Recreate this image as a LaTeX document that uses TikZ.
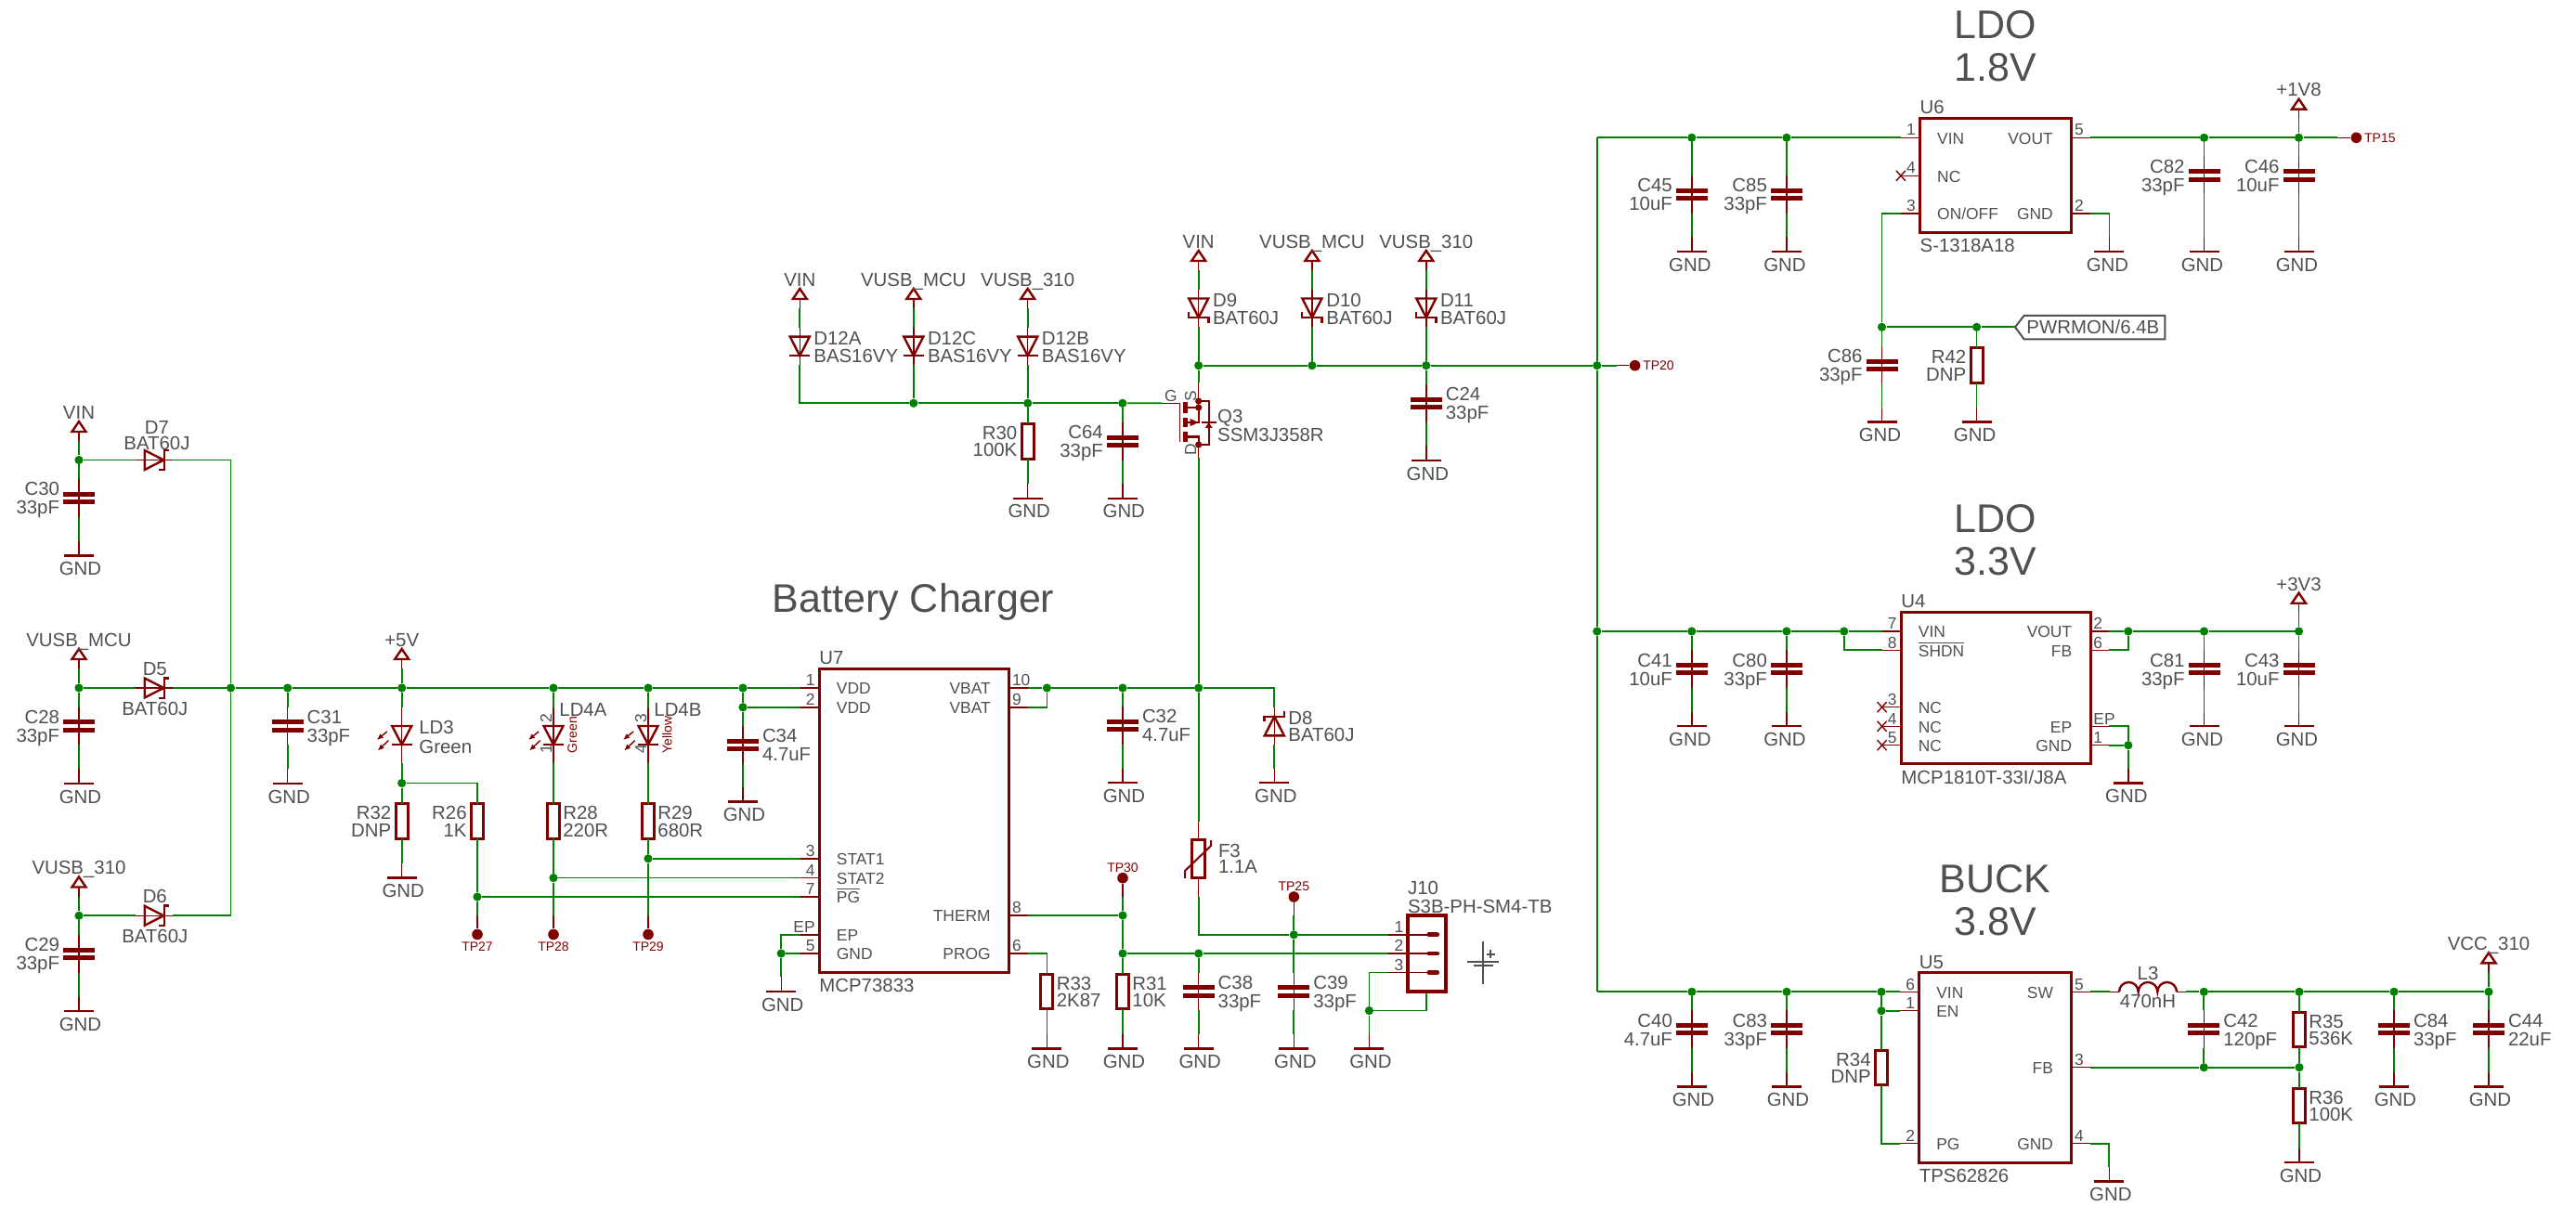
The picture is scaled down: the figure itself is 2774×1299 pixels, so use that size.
\documentclass[tikz,border=0pt]{standalone}
\usepackage{fontspec}
\setmainfont{Liberation Sans}
\usepackage{xcolor}
\usetikzlibrary{arrows.meta}
\definecolor{wiregreen}{HTML}{008000}
\definecolor{symred}{HTML}{800000}
\definecolor{txtgray}{HTML}{505050}
\newcommand{\ovl}[1]{$\overline{\mbox{#1}}$}
\tikzset{
	wire/.style={draw=wiregreen, line width=.85pt},
	pinline/.style={draw=symred, line width=.7pt},
	symline/.style={draw=symred, line width=1.2pt},
	jn/.style={circle, fill=wiregreen, inner sep=0pt, minimum size=4.6pt},
	tdot/.style={circle, fill=symred, inner sep=0pt, minimum size=5.8pt},
	chip/.style={draw=symred, line width=1.5pt, inner sep=0pt},
	lbl/.style={inner sep=0pt, text=txtgray, font=\fontsize{10.2}{10.2}\selectfont, text height=7.3pt, text depth=0pt},
	chiptxt/.style={inner sep=0pt, text=txtgray, font=\fontsize{8.7}{8.7}\selectfont, text height=6.3pt, text depth=0pt},
	tplbl/.style={inner sep=0pt, text=symred, font=\fontsize{7}{7}\selectfont, text height=5pt, text depth=0pt},
	titlelbl/.style={inner sep=0pt, text=txtgray, font=\fontsize{21.5}{21.5}\selectfont, text height=15.5pt, text depth=0pt},
	pics/capl/.style 2 args={code={
		\draw[pinline] (0,-20.4) -- (0,20.4);
		\fill[symred] (-17,-6.7) rectangle (17,-1.7);
		\fill[symred] (-17,1.7) rectangle (17,6.7);
		\coordinate (-t) at (0,-20.4);
		\coordinate (-b) at (0,20.4);
		\node (-ref) [lbl, anchor=east] at (-20.6,-10) {#1};
		\node (-val) [lbl, anchor=east] at (-20.6,10) {#2};
	}},
	pics/capr/.style 2 args={code={
		\draw[pinline] (0,-20.4) -- (0,20.4);
		\fill[symred] (-17,-6.7) rectangle (17,-1.7);
		\fill[symred] (-17,1.7) rectangle (17,6.7);
		\coordinate (-t) at (0,-20.4);
		\coordinate (-b) at (0,20.4);
		\node (-ref) [lbl, anchor=west] at (20.6,-10) {#1};
		\node (-val) [lbl, anchor=west] at (20.6,10) {#2};
	}},
	pics/resl/.style 2 args={code={
		\draw[symline, line width=1.5pt] (-6.5,-18.8) rectangle (6.5,18.8);
		\coordinate (-t) at (0,-18.8);
		\coordinate (-b) at (0,18.8);
		\node (-ref) [lbl, anchor=east] at (-11,-9.3) {#1};
		\node (-val) [lbl, anchor=east] at (-11,9.3) {#2};
	}},
	pics/resr/.style 2 args={code={
		\draw[symline, line width=1.5pt] (-6.5,-18.8) rectangle (6.5,18.8);
		\coordinate (-t) at (0,-18.8);
		\coordinate (-b) at (0,18.8);
		\node (-ref) [lbl, anchor=west] at (10,-9.3) {#1};
		\node (-val) [lbl, anchor=west] at (10,9.3) {#2};
	}},
	pics/gnd/.style={code={
		\draw[pinline] (0,-15.5) -- (0,0);
		\draw[symline] (-16,0) -- (16,0);
		\coordinate (-t) at (0,-15.5);
		\node (-txt) [lbl] at (#1,14) {GND};
	}},
	pics/gnd/.default=1.5,
	pics/supply/.style={code={
		\draw[pinline] (0,-10) -- (0,0);
		\draw[symline] (0,-21) -- (-7.5,-10) -- (7.5,-10) -- cycle;
		\coordinate (-b) at (0,0);
		\node (-txt) [lbl] at (0,-31) {#1};
	}},
	pics/diodev/.style={code={
		\draw[pinline] (0,-20) -- (0,20);
		\draw[symline] (-10.5,-10.3) -- (10.5,-10.3) -- (0,10.3) -- cycle;
		\draw[symline] (-11,10.3) -- (11,10.3);
		\coordinate (-t) at (0,-20);
		\coordinate (-b) at (0,20);
	}},
	pics/schv/.style={code={
		\draw[pinline] (0,-20) -- (0,20);
		\draw[symline] (-10.5,-10.3) -- (10.5,-10.3) -- (0,10.3) -- cycle;
		\draw[symline] (-10.7,4.7) -- (-10.7,10.3) -- (10.7,10.3) -- (10.7,15.9);
		\coordinate (-t) at (0,-20);
		\coordinate (-b) at (0,20);
	}},
	pics/schu/.style={code={
		\draw[pinline] (0,-20) -- (0,20);
		\draw[symline] (-10.5,10.3) -- (10.5,10.3) -- (0,-10.3) -- cycle;
		\draw[symline] (-10.7,-4.7) -- (-10.7,-10.3) -- (10.7,-10.3) -- (10.7,-15.9);
		\coordinate (-t) at (0,-20);
		\coordinate (-b) at (0,20);
	}},
	pics/schh/.style={code={
		\draw[pinline] (-20,0) -- (20,0);
		\draw[symline] (-10.3,-10.5) -- (-10.3,10.5) -- (10.3,0) -- cycle;
		\draw[symline] (5.2,10.7) -- (10.8,10.7) -- (10.8,-10.7) -- (16.4,-10.7);
		\coordinate (-l) at (-20,0);
		\coordinate (-r) at (20,0);
	}},
	pics/ledv/.style={code={
		\draw[pinline] (0,-30) -- (0,30);
		\draw[symline] (-10.5,-10) -- (10.5,-10) -- (0,10) -- cycle;
		\draw[symline] (-11,10) -- (11,10);
		\draw[pinline, -{Latex[length=3.5pt,width=3pt]}] (-15.9,-4) -- (-27,5);
		\draw[pinline, -{Latex[length=3.5pt,width=3pt]}] (-14.3,5.6) -- (-26,16.6);
		\coordinate (-t) at (0,-30);
		\coordinate (-b) at (0,30);
	}},
	pics/pinl/.style 2 args={code={
		\draw[pinline] (-20.4,0) -- (0,0);
		\coordinate (-e) at (-20.4,0);
		\node (-num) [chiptxt, anchor=east] at (-4,-8.6) {#1};
		\node (-name) [chiptxt, anchor=west] at (18.5,.5) {#2};
	}},
	pics/pinr/.style 2 args={code={
		\draw[pinline] (20.4,0) -- (0,0);
		\coordinate (-e) at (20.4,0);
		\node (-num) [chiptxt, anchor=west] at (3,-8.6) {#1};
		\node (-name) [chiptxt, anchor=east] at (-19.5,.5) {#2};
	}},
	pics/jpin/.style={code={
		\draw[pinline] (-20.4,0) -- (22,0);
		\draw[draw=symred, line width=2.4pt, line cap=round] (23,0) -- (32,0);
		\coordinate (-e) at (-20.4,0);
		\node (-num) [chiptxt, anchor=east] at (-4,-8.8) {#1};
	}},
	pics/xmark/.style={code={
		\draw[pinline] (-5,-5.5) -- (5,5.5);
		\draw[pinline] (-5,5.5) -- (5,-5.5);
	}},
	pics/tpd/.style={code={
		\node (-dot) [tdot] at (0,0) {};
		\draw[pinline] (0,-21) -- (-dot);
		\coordinate (-p) at (0,-21);
		\node (-txt) [tplbl] at (0,12.5) {#1};
	}},
	pics/tpa/.style={code={
		\node (-dot) [tdot] at (0,0) {};
		\draw[pinline] (0,20.4) -- (-dot);
		\coordinate (-p) at (0,20.4);
		\node (-txt) [tplbl] at (0,-11.5) {#1};
	}},
	pics/tpr/.style={code={
		\node (-dot) [tdot] at (0,0) {};
		\draw[pinline] (-20,0) -- (-dot);
		\coordinate (-p) at (-20,0);
		\node (-txt) [tplbl, anchor=west] at (8.3,0) {#1};
	}},
	pics/pmos/.style={code={
		\draw[pinline] (0,-43.3) -- (0,-16);
		\draw[pinline] (0,24) -- (0,38.3);
		\draw[pinline] (-39.7,-20.7) -- (-20,-20.7) -- (-20,21);
		\draw[draw=symred, line width=2.6pt] (-14.4,-21.7) -- (-14.4,-10);
		\draw[draw=symred, line width=2.6pt] (-14.4,-5) -- (-14.4,5);
		\draw[draw=symred, line width=2.6pt] (-14.4,10) -- (-14.4,21);
		\draw[symline] (-14.4,-16) -- (0,-16) -- (0,0) -- (-14.4,0);
		\fill[symred] (0,0) -- (-9,-4) -- (-9,4) -- cycle;
		\draw[symline] (-14.4,15.7) -- (0,15.7) -- (0,24);
		\draw[pinline, line width=1pt] (0,-23) -- (11,-23) -- (11,24) -- (0,24);
		\fill[symred] (11,0) -- (7,6) -- (15,6) -- cycle;
		\draw[symline] (3,0) -- (19,0);
		\fill[symred] (0,-23) circle (3.6);
		\fill[symred] (0,-16) circle (3.6);
		\fill[symred] (0,24) circle (3.6);
		\coordinate (-s) at (0,-43.3);
		\coordinate (-g) at (-39.7,-20.7);
		\coordinate (-d) at (0,38.3);
	}},
	pics/fuse/.style={code={
		\draw[pinline] (0,-40.4) -- (0,-20.7);
		\draw[pinline] (0,20.7) -- (0,41);
		\draw[symline, line width=1.5pt] (-7.2,-20.7) rectangle (7.2,20.7);
		\draw[pinline, line width=1pt] (-14.7,21) -- (-14.7,13) -- (13.3,-14) -- (13.3,-20);
		\coordinate (-t) at (0,-40.4);
		\coordinate (-b) at (0,41);
	}},
	pics/coil/.style={code={
		\draw[pinline] (-41,0) -- (-31,0);
		\draw[pinline] (31,0) -- (41,0);
		\draw[symline] (-31,0) arc[start angle=180, end angle=360, radius=10.33] arc[start angle=180, end angle=360, radius=10.33] arc[start angle=180, end angle=360, radius=10.33];
		\coordinate (-l) at (-41,0);
		\coordinate (-r) at (41,0);
	}}
}

\begin{document}
\begin{tikzpicture}[x=.5pt, y=-.5pt]
	\useasboundingbox (0,0) rectangle (2774,1299);

	\node (jvin) [jn] at (85,495.5) {};
	\pic (svin) at (85,475) {supply=VIN};
	\pic (d7) at (166,495.5) {schh};
	\node (d7ref) [lbl] at (169,460.6) {D7};
	\node (d7val) [lbl] at (169,477.6) {BAT60J};
	\pic (c30) at (85,536.6) {capl={C30}{33pF}};
	\pic (g30) at (85,598.3) {gnd};
	\draw[wire] (svin-b) -- (jvin);
	\draw[wire] (jvin) -- (c30-t);
	\draw[wire] (c30-b) -- (g30-t);
	\draw[wire] (jvin) -- (d7-l);

	\node (jmcu) [jn] at (85,741) {};
	\pic (smcu) at (85,720) {supply={VUSB\_MCU}};
	\pic (d5) at (166,741) {schh};
	\node (d5ref) [lbl] at (166.8,720.5) {D5};
	\node (d5val) [lbl] at (166.8,763.6) {BAT60J};
	\pic (c28) at (85,782) {capl={C28}{33pF}};
	\pic (g28) at (85,843.7) {gnd};
	\draw[wire] (smcu-b) -- (jmcu);
	\draw[wire] (jmcu) -- (c28-t);
	\draw[wire] (c28-b) -- (g28-t);
	\draw[wire] (jmcu) -- (d5-l);

	\node (jusb) [jn] at (85,986.3) {};
	\pic (susb) at (85,965.5) {supply={VUSB\_310}};
	\pic (d6) at (166,986.3) {schh};
	\node (d6ref) [lbl] at (166.8,965.6) {D6};
	\node (d6val) [lbl] at (166.8,1008.4) {BAT60J};
	\pic (c29) at (85,1027.4) {capl={C29}{33pF}};
	\pic (g29) at (85,1089) {gnd};
	\draw[wire] (susb-b) -- (jusb);
	\draw[wire] (jusb) -- (c29-t);
	\draw[wire] (c29-b) -- (g29-t);
	\draw[wire] (jusb) -- (d6-l);

	\node (jsum) [jn] at (248.5,741) {};
	\node (j31) [jn] at (309.7,741) {};
	\node (j5v) [jn] at (432.7,741) {};
	\node (jl4a) [jn] at (596,741) {};
	\node (jl4b) [jn] at (698,741) {};
	\node (jc34) [jn] at (800,741) {};
	\node (jc34b) [jn] at (800,761.8) {};
	\draw[wire] (d7-r) -| (jsum);
	\draw[wire] (d6-r) -| (jsum);
	\draw[wire] (d5-r) -- (jsum);
	\draw[wire] (jsum) -- (j31);
	\draw[wire] (j31) -- (j5v);
	\draw[wire] (j5v) -- (jl4a);
	\draw[wire] (jl4a) -- (jl4b);
	\draw[wire] (jl4b) -- (jc34);

	\pic (c31) at (309.7,782) {capr={C31}{33pF}};
	\pic (g31) at (309.7,843.7) {gnd};
	\draw[wire] (j31) -- (c31-t);
	\draw[wire] (c31-b) -- (g31-t);

	\pic (s5v) at (432.7,720) {supply=+5V};
	\pic (ld3) at (432.7,792) {ledv};
	\node (ld3ref) [lbl, anchor=west] at (451,783.4) {LD3};
	\node (ld3val) [lbl, anchor=west] at (451,804.5) {Green};
	\node (jld3) [jn] at (432.7,843.5) {};
	\pic (r32) at (432.7,884.4) {resl={R32}{DNP}};
	\pic (g32) at (432.7,945.5) {gnd};
	\pic (r26) at (514,884.4) {resl={R26}{1K}};
	\node (jpg) [jn] at (514,966) {};
	\pic (tp27) at (514,1006.5) {tpd=TP27};
	\draw[wire] (s5v-b) -- (j5v);
	\draw[wire] (j5v) -- (ld3-t);
	\draw[wire] (ld3-b) -- (jld3);
	\draw[wire] (jld3) -- (r32-t);
	\draw[wire] (r32-b) -- (g32-t);
	\draw[wire] (jld3) -| (r26-t);
	\draw[wire] (r26-b) -- (jpg);
	\draw[wire] (jpg) -- (tp27-p);

	\pic (ld4a) at (596,792) {ledv};
	\node (ld4a2) [chiptxt, rotate=90] at (587.8,774) {2};
	\node (ld4a1) [chiptxt, rotate=90] at (587.8,806.3) {1};
	\node (ld4aref) [lbl, anchor=west] at (602,764) {LD4A};
	\node (ld4aval) [tplbl, rotate=90] at (616,791.6) {Green};
	\pic (r28) at (596,884.4) {resr={R28}{220R}};
	\node (jst2) [jn] at (596,945.6) {};
	\pic (tp28) at (596,1006.5) {tpd=TP28};
	\draw[wire] (jl4a) -- (ld4a-t);
	\draw[wire] (ld4a-b) -- (r28-t);
	\draw[wire] (r28-b) -- (jst2);
	\draw[wire] (jst2) -- (tp28-p);

	\pic (ld4b) at (698,792) {ledv};
	\node (ld4b3) [chiptxt, rotate=90] at (689.8,774) {3};
	\node (ld4b4) [chiptxt, rotate=90] at (689.8,806.3) {4};
	\node (ld4bref) [lbl, anchor=west] at (704,764) {LD4B};
	\node (ld4bval) [tplbl, rotate=90] at (718.4,791.6) {Yellow};
	\pic (r29) at (698,884.4) {resr={R29}{680R}};
	\node (jst1) [jn] at (698,924.8) {};
	\pic (tp29) at (698,1006.5) {tpd=TP29};
	\draw[wire] (jl4b) -- (ld4b-t);
	\draw[wire] (ld4b-b) -- (r29-t);
	\draw[wire] (r29-b) -- (jst1);
	\draw[wire] (jst1) -- (tp29-p);

	\pic (c34) at (800,802.5) {capr={C34}{4.7uF}};
	\pic (g34) at (800,863.6) {gnd};
	\draw[wire] (jc34) -- (jc34b);
	\draw[wire] (jc34b) -- (c34-t);
	\draw[wire] (c34-b) -- (g34-t);

	\node (chgtitle) [titlelbl] at (983.6,644) {Battery Charger};
	\node (u7) [chip, minimum width=102.3pt, minimum height=163.55pt] at (984.3,884) {};
	\node (u7ref) [lbl, anchor=west] at (882,708) {U7};
	\node (u7val) [lbl, anchor=west] at (882,1061.4) {MCP73833};
	\pic (u7p1) at (882,741) {pinl={1}{VDD}};
	\pic (u7p2) at (882,761.8) {pinl={2}{VDD}};
	\pic (u7p3) at (882,924.8) {pinl={3}{STAT1}};
	\pic (u7p4) at (882,945.6) {pinl={4}{STAT2}};
	\pic (u7p7) at (882,966) {pinl={7}{\ovl{PG}}};
	\pic (u7pep) at (882,1006.8) {pinl={EP}{EP}};
	\pic (u7p5) at (882,1027) {pinl={5}{GND}};
	\pic (u7p10) at (1086.6,741) {pinr={10}{VBAT}};
	\pic (u7p9) at (1086.6,761.8) {pinr={9}{VBAT}};
	\pic (u7p8) at (1086.6,986) {pinr={8}{THERM}};
	\pic (u7p6) at (1086.6,1027) {pinr={6}{PROG}};
	\node (jgu7) [jn] at (841.2,1027) {};
	\pic (gu7) at (841.2,1067.9) {gnd};
	\draw[wire] (jc34) -- (u7p1-e);
	\draw[wire] (jc34b) -- (u7p2-e);
	\draw[wire] (jst1) -- (u7p3-e);
	\draw[wire] (jst2) -- (u7p4-e);
	\draw[wire] (jpg) -- (u7p7-e);
	\draw[wire] (u7pep-e) -| (jgu7);
	\draw[wire] (u7p5-e) -- (jgu7);
	\draw[wire] (jgu7) -- (gu7-t);

	\node (jbat) [jn] at (1127.4,741) {};
	\node (jc32) [jn] at (1209,741) {};
	\node (jq) [jn] at (1290.7,741) {};
	\pic (c32) at (1209,781.6) {capr={C32}{4.7uF}};
	\pic (g32b) at (1209,843.2) {gnd};
	\pic (d8) at (1372.3,782) {schu};
	\node (d8ref) [lbl, anchor=west] at (1387,773.2) {D8};
	\node (d8val) [lbl, anchor=west] at (1387,791.4) {BAT60J};
	\pic (g8) at (1372.3,843.2) {gnd};
	\draw[wire] (u7p10-e) -- (jbat);
	\draw[wire] (u7p9-e) -| (jbat);
	\draw[wire] (jbat) -- (jc32);
	\draw[wire] (jc32) -- (jq);
	\draw[wire] (jq) -| (d8-t);
	\draw[wire] (d8-b) -- (g8-t);
	\draw[wire] (jc32) -- (c32-t);
	\draw[wire] (c32-b) -- (g32b-t);

	\pic (f3) at (1290.7,925) {fuse};
	\node (f3ref) [lbl, anchor=west] at (1311.6,916.4) {F3};
	\node (f3val) [lbl, anchor=west] at (1311.6,933.6) {1.1A};
	\node (jp1) [jn] at (1393.3,1006.8) {};
	\pic (tp25) at (1393.3,966) {tpa=TP25};
	\pic (tp30) at (1209,945.7) {tpa=TP30};
	\node (jtherm) [jn] at (1209,986) {};
	\node (jr31) [jn] at (1209,1027) {};
	\node (jc38) [jn] at (1290.7,1027) {};
	\pic (r33) at (1127.4,1068) {resr={R33}{2K87}};
	\pic (g33) at (1127.4,1129.3) {gnd};
	\pic (r31) at (1209,1068) {resr={R31}{10K}};
	\pic (gr31) at (1209,1129.3) {gnd};
	\pic (c38) at (1290.7,1068) {capr={C38}{33pF}};
	\pic (g38) at (1290.7,1129.3) {gnd};
	\pic (c39) at (1393.3,1068) {capr={C39}{33pF}};
	\pic (g39) at (1393.3,1129.3) {gnd};
	\draw[wire] (jq) -- (f3-t);
	\draw[wire] (f3-b) |- (jp1);
	\draw[wire] (tp25-p) -- (jp1);
	\draw[wire] (jp1) -- (c39-t);
	\draw[wire] (c39-b) -- (g39-t);
	\draw[wire] (tp30-p) -- (jtherm);
	\draw[wire] (u7p8-e) -- (jtherm);
	\draw[wire] (jtherm) -- (jr31);
	\draw[wire] (jr31) -- (r31-t);
	\draw[wire] (r31-b) -- (gr31-t);
	\draw[wire] (jr31) -- (jc38);
	\draw[wire] (jc38) -- (c38-t);
	\draw[wire] (c38-b) -- (g38-t);
	\draw[wire] (u7p6-e) -| (r33-t);
	\draw[wire] (r33-b) -- (g33-t);

	\node (j10) [chip, line width=2pt, minimum width=20.65pt, minimum height=41pt] at (1536.3,1027) {};
	\node (j10ref) [lbl, anchor=west] at (1515.7,955.7) {J10};
	\node (j10val) [lbl, anchor=west] at (1515.7,975.7) {S3B-PH-SM4-TB};
	\pic (j10p1) at (1515.7,1006.8) {jpin=1};
	\pic (j10p2) at (1515.7,1027) {jpin=2};
	\pic (j10p3) at (1515.7,1047.5) {jpin=3};
	\node (jg10) [jn] at (1474.4,1088.6) {};
	\pic (gj10) at (1474.4,1129.3) {gnd};
	\draw[wire] (jp1) -- (j10p1-e);
	\draw[wire] (jc38) -- (j10p2-e);
	\draw[wire] (j10p3-e) -| (jg10);
	\draw[wire] (j10.south) |- (jg10);
	\draw[wire] (jg10) -- (gj10-t);
	\draw[draw=txtgray, line width=1pt] (1597.3,1014.3) -- (1597.3,1060);
	\draw[draw=txtgray, line width=1pt] (1580,1035.7) -- (1614.3,1035.7);
	\draw[draw=txtgray, line width=1pt] (1586.7,1039.6) -- (1608.3,1039.6);
	\draw[draw=txtgray, line width=1pt] (1600.8,1027.7) -- (1609.8,1027.7);
	\draw[draw=txtgray, line width=1pt] (1605.3,1023) -- (1605.3,1032.4);

	\pic (sa) at (861.3,332) {supply=VIN};
	\pic (sb) at (983.8,332) {supply={VUSB\_MCU}};
	\pic (sc) at (1106.7,332) {supply={VUSB\_310}};
	\pic (d12a) at (861.3,373) {diodev};
	\pic (d12c) at (983.8,373) {diodev};
	\pic (d12b) at (1106.7,373) {diodev};
	\node (d12aref) [lbl, anchor=west] at (876,364.7) {D12A};
	\node (d12aval) [lbl, anchor=west] at (876,383.3) {BAS16VY};
	\node (d12cref) [lbl, anchor=west] at (998.6,364.7) {D12C};
	\node (d12cval) [lbl, anchor=west] at (998.6,383.3) {BAS16VY};
	\node (d12bref) [lbl, anchor=west] at (1121.5,364.7) {D12B};
	\node (d12bval) [lbl, anchor=west] at (1121.5,383.3) {BAS16VY};
	\node (jd12c) [jn] at (983.8,434.3) {};
	\node (jd12b) [jn] at (1106.7,434.3) {};
	\node (jc64) [jn] at (1208.8,434.3) {};
	\pic (r30) at (1106.7,475.3) {resl={R30}{100K}};
	\pic (gr30) at (1106.7,536.7) {gnd};
	\pic (c64) at (1208.8,475.5) {capl={C64}{33pF}};
	\pic (g64) at (1208.8,536.7) {gnd};
	\pic (q3) at (1290.7,455) {pmos};
	\node (q3g) [chiptxt] at (1260.8,426.7) {G};
	\node (q3s) [chiptxt, rotate=90] at (1281.7,426.7) {S};
	\node (q3d) [chiptxt, rotate=90] at (1281.7,484.3) {D};
	\node (q3ref) [lbl, anchor=west] at (1310.8,448.3) {Q3};
	\node (q3val) [lbl, anchor=west] at (1310.8,468.3) {SSM3J358R};
	\draw[wire] (sa-b) -- (d12a-t);
	\draw[wire] (sb-b) -- (d12c-t);
	\draw[wire] (sc-b) -- (d12b-t);
	\draw[wire] (d12a-b) |- (jd12c);
	\draw[wire] (d12c-b) -- (jd12c);
	\draw[wire] (d12b-b) -- (jd12b);
	\draw[wire] (jd12c) -- (jd12b);
	\draw[wire] (jd12b) -- (jc64);
	\draw[wire] (jc64) -- (q3-g);
	\draw[wire] (jd12b) -- (r30-t);
	\draw[wire] (r30-b) -- (gr30-t);
	\draw[wire] (jc64) -- (c64-t);
	\draw[wire] (c64-b) -- (g64-t);
	\draw[wire] (q3-d) -- (jq);

	\pic (sd) at (1290.7,291) {supply=VIN};
	\pic (se) at (1412.9,291) {supply={VUSB\_MCU}};
	\pic (sf) at (1535.8,291) {supply={VUSB\_310}};
	\pic (d9) at (1290.7,331.8) {schv};
	\pic (d10) at (1412.9,331.8) {schv};
	\pic (d11) at (1535.8,331.8) {schv};
	\node (d9ref) [lbl, anchor=west] at (1305.7,323.7) {D9};
	\node (d9val) [lbl, anchor=west] at (1305.7,342.3) {BAT60J};
	\node (d10ref) [lbl, anchor=west] at (1428,323.7) {D10};
	\node (d10val) [lbl, anchor=west] at (1428,342.3) {BAT60J};
	\node (d11ref) [lbl, anchor=west] at (1550.6,323.7) {D11};
	\node (d11val) [lbl, anchor=west] at (1550.6,342.3) {BAT60J};
	\node (jd9) [jn] at (1290.7,393.7) {};
	\node (jd10) [jn] at (1412.9,393.7) {};
	\node (jd11) [jn] at (1535.8,393.7) {};
	\node (jmain) [jn] at (1719.8,393.7) {};
	\pic (tp20) at (1760.6,393.7) {tpr=TP20};
	\pic (c24) at (1535.8,434.5) {capr={C24}{33pF}};
	\pic (g24) at (1535.8,496) {gnd};
	\draw[wire] (sd-b) -- (d9-t);
	\draw[wire] (se-b) -- (d10-t);
	\draw[wire] (sf-b) -- (d11-t);
	\draw[wire] (d9-b) -- (jd9);
	\draw[wire] (d10-b) -- (jd10);
	\draw[wire] (d11-b) -- (jd11);
	\draw[wire] (jd9) -- (q3-s);
	\draw[wire] (jd9) -- (jd10);
	\draw[wire] (jd10) -- (jd11);
	\draw[wire] (jd11) -- (jmain);
	\draw[wire] (jmain) -- (tp20-p);
	\draw[wire] (jd11) -- (c24-t);
	\draw[wire] (c24-b) -- (g24-t);

	\node (ldoa1) [titlelbl] at (2149,26) {LDO};
	\node (ldoa2) [titlelbl] at (2149,71.7) {1.8V};
	\coordinate (cnr18) at (1719.8,148.3);
	\node (jc45) [jn] at (1821.8,148.3) {};
	\node (jc85) [jn] at (1923.9,148.3) {};
	\pic (c45) at (1821.8,209.7) {capl={C45}{10uF}};
	\pic (g45) at (1821.8,271) {gnd=-2};
	\pic (c85) at (1923.9,209.7) {capl={C85}{33pF}};
	\pic (g85) at (1923.9,271) {gnd=-2};
	\node (u6) [chip, minimum width=81.65pt, minimum height=61.5pt] at (2149,189.2) {};
	\node (u6ref) [lbl, anchor=west] at (2067.3,115.7) {U6};
	\node (u6val) [lbl, anchor=west] at (2067.3,264.3) {S-1318A18};
	\pic (u6p1) at (2067.3,148.3) {pinl={1}{VIN}};
	\pic (u6p4) at (2067.3,189.3) {pinl={4}{NC}};
	\pic (u6p3) at (2067.3,230) {pinl={3}{ON/OFF}};
	\pic (u6p5) at (2230.6,148.3) {pinr={5}{VOUT}};
	\pic (u6p2) at (2230.6,230) {pinr={2}{GND}};
	\pic (u6x4) at (u6p4-e) {xmark};
	\pic (gu6) at (2271.4,271) {gnd=-2};
	\node (jc82) [jn] at (2373.5,148.3) {};
	\node (jc46) [jn] at (2475.5,148.3) {};
	\pic (c82) at (2373.5,189) {capl={C82}{33pF}};
	\pic (g82) at (2373.5,271) {gnd=-2};
	\pic (c46) at (2475.5,189) {capl={C46}{10uF}};
	\pic (g46) at (2475.5,271) {gnd=-2};
	\pic (s18) at (2475.5,127.7) {supply=+1V8};
	\pic (tp15) at (2537.4,148.3) {tpr=TP15};
	\node (jc86) [jn] at (2026.5,352.3) {};
	\node (jr42) [jn] at (2128.6,352.3) {};
	\coordinate (pwrtip) at (2170,352.3);
	\node (pwrtxt) [lbl, anchor=west] at (2182,352.6) {PWRMON/6.4B};
	\draw[draw=txtgray, line width=1pt] (pwrtip) -- (2179.6,340) -- (2331.4,340) -- (2331.4,365.3) -- (2179.6,365.3) -- cycle;
	\pic (c86) at (2026.5,393.3) {capl={C86}{33pF}};
	\pic (g86) at (2026.5,454.7) {gnd=-2};
	\pic (r42) at (2128.6,393.5) {resl={R42}{DNP}};
	\pic (g42) at (2128.6,454.7) {gnd=-2};
	\draw[wire] (jmain) -- (cnr18);
	\draw[wire] (cnr18) -- (jc45);
	\draw[wire] (jc45) -- (jc85);
	\draw[wire] (jc85) -- (u6p1-e);
	\draw[wire] (jc45) -- (c45-t);
	\draw[wire] (c45-b) -- (g45-t);
	\draw[wire] (jc85) -- (c85-t);
	\draw[wire] (c85-b) -- (g85-t);
	\draw[wire] (u6p2-e) -| (gu6-t);
	\draw[wire] (u6p5-e) -- (jc82);
	\draw[wire] (jc82) -- (jc46);
	\draw[wire] (jc46) -- (tp15-p);
	\draw[wire] (s18-b) -- (jc46);
	\draw[wire] (jc82) -- (c82-t);
	\draw[wire] (c82-b) -- (g82-t);
	\draw[wire] (jc46) -- (c46-t);
	\draw[wire] (c46-b) -- (g46-t);
	\draw[wire] (u6p3-e) -| (jc86);
	\draw[wire] (jc86) -- (jr42);
	\draw[wire] (jr42) -- (pwrtip);
	\draw[wire] (jc86) -- (c86-t);
	\draw[wire] (c86-b) -- (g86-t);
	\draw[wire] (jr42) -- (r42-t);
	\draw[wire] (r42-b) -- (g42-t);

	\node (ldob1) [titlelbl] at (2149,557.7) {LDO};
	\node (ldob2) [titlelbl] at (2149,604) {3.3V};
	\node (j33) [jn] at (1719.8,680) {};
	\node (jc41) [jn] at (1821.8,680) {};
	\node (jc80) [jn] at (1923.9,680) {};
	\node (jen4) [jn] at (1985.7,680) {};
	\pic (c41) at (1821.8,720.7) {capl={C41}{10uF}};
	\pic (g41) at (1821.8,782) {gnd=-2};
	\pic (c80) at (1923.9,720.7) {capl={C80}{33pF}};
	\pic (g80) at (1923.9,782) {gnd=-2};
	\node (u4) [chip, minimum width=102pt, minimum height=81.7pt] at (2149,741) {};
	\node (u4ref) [lbl, anchor=west] at (2047,646.7) {U4};
	\node (u4val) [lbl, anchor=west] at (2047,836.7) {MCP1810T-33I/J8A};
	\pic (u4p7) at (2047,680) {pinl={7}{VIN}};
	\pic (u4p8) at (2047,700.3) {pinl={8}{\ovl{SHDN}}};
	\pic (u4p3) at (2047,761.7) {pinl={3}{NC}};
	\pic (u4p4) at (2047,782.3) {pinl={4}{NC}};
	\pic (u4p5) at (2047,802.7) {pinl={5}{NC}};
	\pic (u4p2) at (2251,680) {pinr={2}{VOUT}};
	\pic (u4p6) at (2251,700.3) {pinr={6}{FB}};
	\pic (u4pep) at (2251,782.3) {pinr={EP}{EP}};
	\pic (u4p1) at (2251,802.7) {pinr={1}{GND}};
	\pic (u4x3) at (u4p3-e) {xmark};
	\pic (u4x4) at (u4p4-e) {xmark};
	\pic (u4x5) at (u4p5-e) {xmark};
	\node (jvo4) [jn] at (2291.8,680) {};
	\node (jgu4) [jn] at (2291.8,802.7) {};
	\pic (gu4) at (2291.8,843.3) {gnd=-2};
	\node (jc81) [jn] at (2373.5,680) {};
	\node (jc43) [jn] at (2475.5,680) {};
	\pic (c81) at (2373.5,720.7) {capl={C81}{33pF}};
	\pic (g81) at (2373.5,782) {gnd=-2};
	\pic (c43) at (2475.5,720.7) {capl={C43}{10uF}};
	\pic (g43) at (2475.5,782) {gnd=-2};
	\pic (s33) at (2475.5,659.7) {supply=+3V3};
	\draw[wire] (jmain) -- (j33);
	\draw[wire] (j33) -- (jc41);
	\draw[wire] (jc41) -- (jc80);
	\draw[wire] (jc80) -- (jen4);
	\draw[wire] (jen4) -- (u4p7-e);
	\draw[wire] (u4p8-e) -| (jen4);
	\draw[wire] (jc41) -- (c41-t);
	\draw[wire] (c41-b) -- (g41-t);
	\draw[wire] (jc80) -- (c80-t);
	\draw[wire] (c80-b) -- (g80-t);
	\draw[wire] (u4p2-e) -- (jvo4);
	\draw[wire] (u4p6-e) -| (jvo4);
	\draw[wire] (u4pep-e) -| (jgu4);
	\draw[wire] (u4p1-e) -- (jgu4);
	\draw[wire] (jgu4) -- (gu4-t);
	\draw[wire] (jvo4) -- (jc81);
	\draw[wire] (jc81) -- (jc43);
	\draw[wire] (s33-b) -- (jc43);
	\draw[wire] (jc81) -- (c81-t);
	\draw[wire] (c81-b) -- (g81-t);
	\draw[wire] (jc43) -- (c43-t);
	\draw[wire] (c43-b) -- (g43-t);

	\node (bucka) [titlelbl] at (2148.6,946) {BUCK};
	\node (buckb) [titlelbl] at (2148.6,992.3) {3.8V};
	\coordinate (cnr38) at (1719.8,1068.3);
	\node (jc40) [jn] at (1821.9,1068.3) {};
	\node (jc83) [jn] at (1924,1068.3) {};
	\node (jvi5) [jn] at (2026,1068.3) {};
	\node (jen5) [jn] at (2026,1088.7) {};
	\pic (c40) at (1821.9,1108.7) {capl={C40}{4.7uF}};
	\pic (g40) at (1821.9,1170.3) {gnd};
	\pic (c83) at (1924,1108.7) {capl={C83}{33pF}};
	\pic (g83) at (1924,1170.3) {gnd};
	\pic (r34) at (2026,1150) {resl={R34}{DNP}};
	\node (u5) [chip, minimum width=82.2pt, minimum height=102.35pt] at (2148.6,1149.7) {};
	\node (u5ref) [lbl, anchor=west] at (2066.4,1035.7) {U5};
	\node (u5val) [lbl, anchor=west] at (2066.4,1266.3) {TPS62826};
	\pic (u5p6) at (2066.4,1068.3) {pinl={6}{VIN}};
	\pic (u5p1) at (2066.4,1088.7) {pinl={1}{EN}};
	\pic (u5p2) at (2066.4,1231.7) {pinl={2}{PG}};
	\pic (u5p5) at (2230.8,1068.3) {pinr={5}{SW}};
	\pic (u5p3) at (2230.8,1149.7) {pinr={3}{FB}};
	\pic (u5p4) at (2230.8,1231.7) {pinr={4}{GND}};
	\pic (gu5) at (2271.3,1272.3) {gnd};
	\pic (l3) at (2313,1068.3) {coil};
	\node (l3ref) [lbl] at (2313,1048.3) {L3};
	\node (l3val) [lbl] at (2313,1078.3) {470nH};
	\node (jc42) [jn] at (2373.3,1068.3) {};
	\node (jr35) [jn] at (2476,1068.3) {};
	\node (jc84) [jn] at (2578,1068.3) {};
	\node (jc44) [jn] at (2680,1068.3) {};
	\node (jfb1) [jn] at (2373.3,1149.7) {};
	\node (jfb2) [jn] at (2476,1149.7) {};
	\pic (c42) at (2373.3,1108.7) {capr={C42}{120pF}};
	\pic (r35) at (2476,1109) {resr={R35}{536K}};
	\pic (r36) at (2476,1191) {resr={R36}{100K}};
	\pic (g36) at (2476,1252) {gnd};
	\pic (c84) at (2578,1108.7) {capr={C84}{33pF}};
	\pic (g84) at (2578,1170.3) {gnd};
	\pic (c44) at (2680,1108.7) {capr={C44}{22uF}};
	\pic (g44) at (2680,1170.3) {gnd};
	\pic (s38) at (2680,1047.3) {supply={VCC\_310}};
	\draw[wire] (j33) -- (cnr38);
	\draw[wire] (cnr38) -- (jc40);
	\draw[wire] (jc40) -- (jc83);
	\draw[wire] (jc83) -- (jvi5);
	\draw[wire] (jvi5) -- (u5p6-e);
	\draw[wire] (jvi5) -- (jen5);
	\draw[wire] (jen5) -- (u5p1-e);
	\draw[wire] (jen5) -- (r34-t);
	\draw[wire] (r34-b) |- (u5p2-e);
	\draw[wire] (jc40) -- (c40-t);
	\draw[wire] (c40-b) -- (g40-t);
	\draw[wire] (jc83) -- (c83-t);
	\draw[wire] (c83-b) -- (g83-t);
	\draw[wire] (u5p4-e) -| (gu5-t);
	\draw[wire] (u5p5-e) -- (l3-l);
	\draw[wire] (l3-r) -- (jc42);
	\draw[wire] (jc42) -- (jr35);
	\draw[wire] (jr35) -- (jc84);
	\draw[wire] (jc84) -- (jc44);
	\draw[wire] (s38-b) -- (jc44);
	\draw[wire] (jc42) -- (c42-t);
	\draw[wire] (c42-b) -- (jfb1);
	\draw[wire] (u5p3-e) -- (jfb1);
	\draw[wire] (jfb1) -- (jfb2);
	\draw[wire] (jr35) -- (r35-t);
	\draw[wire] (r35-b) -- (jfb2);
	\draw[wire] (jfb2) -- (r36-t);
	\draw[wire] (r36-b) -- (g36-t);
	\draw[wire] (jc84) -- (c84-t);
	\draw[wire] (c84-b) -- (g84-t);
	\draw[wire] (jc44) -- (c44-t);
	\draw[wire] (c44-b) -- (g44-t);
\end{tikzpicture}
\end{document}
